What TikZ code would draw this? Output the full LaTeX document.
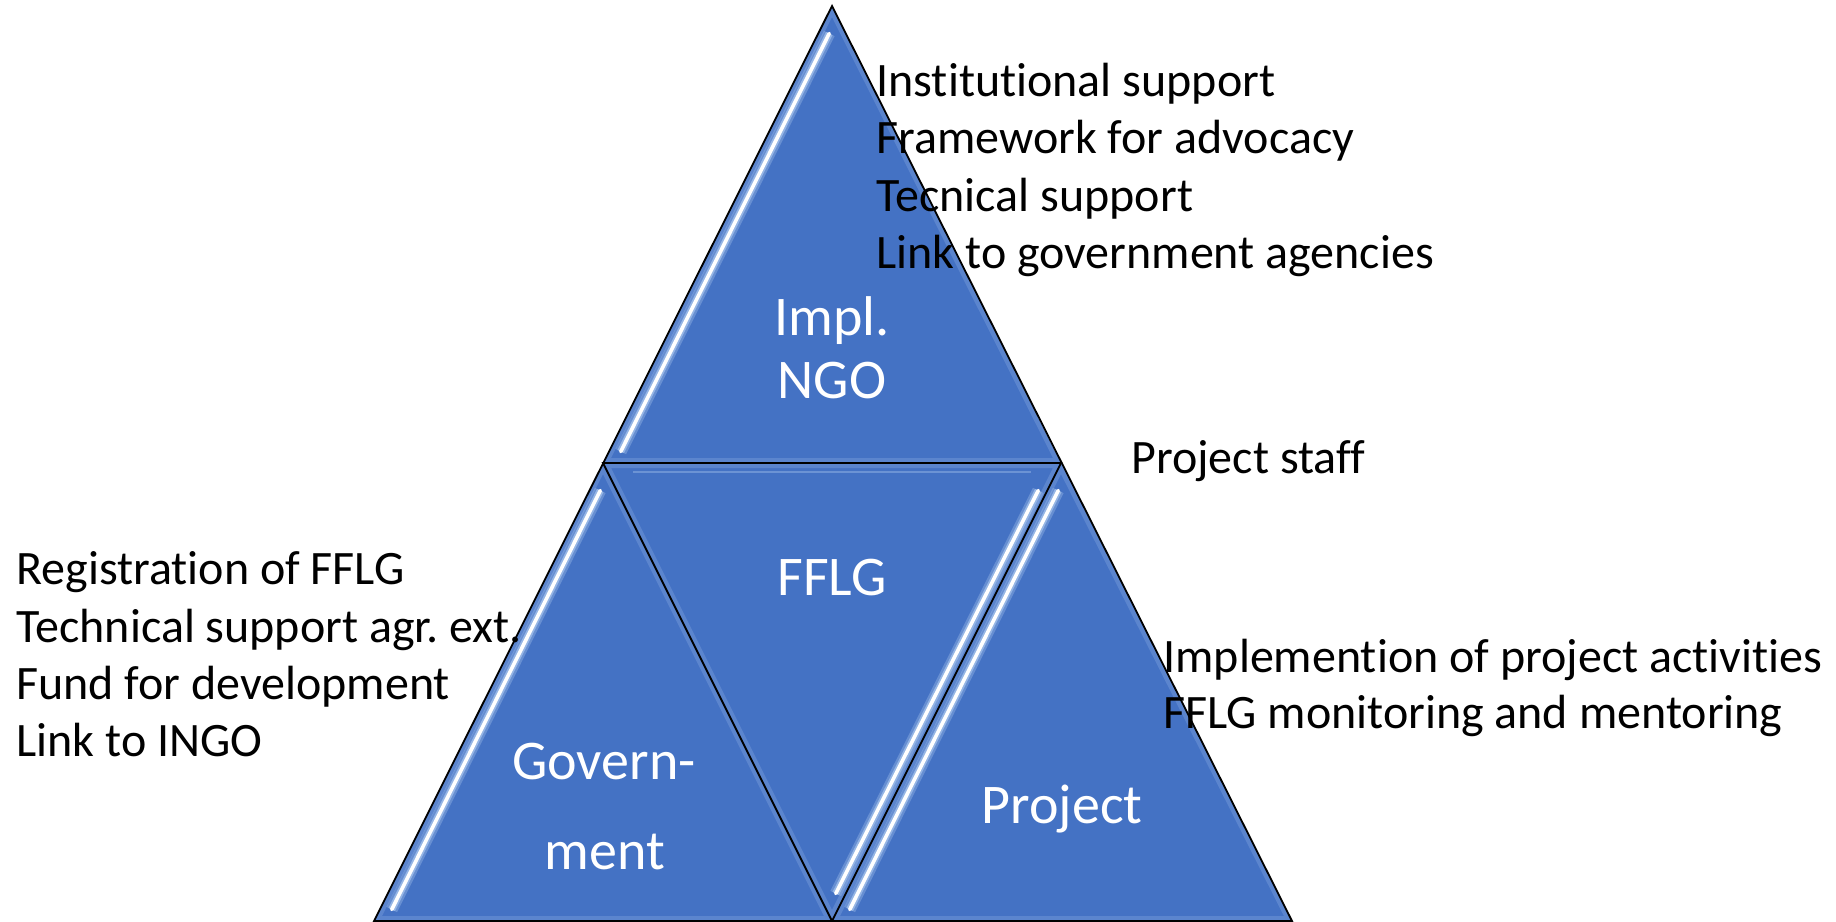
\documentclass[tikz,border=0pt]{standalone}
\usepackage{fontspec}
\setmainfont{Carlito}[RawFeature={-liga}]
\usetikzlibrary{calc}
\definecolor{tri}{HTML}{4472C4}
\definecolor{triglow}{HTML}{A9C6EE}
\definecolor{tririm}{HTML}{7FA2DF}
\frenchspacing

\tikzset{
  facetfill/.style={fill=tri},
  facetrim/.style={draw=tririm, line width=5pt, opacity=0.4, line join=round},
  outline/.style={draw=black, line width=0.9pt, line join=miter},
  shinehaze/.style={draw=triglow, line width=6pt, opacity=0.35, line cap=butt},
  shineglow/.style={draw=triglow, line width=3.6pt, opacity=0.7, line cap=butt, preaction={shinehaze}},
  shinecore/.style={draw=white, line width=1.8pt, line cap=round, preaction={shineglow}},
  blk/.style={inner sep=0pt, text=black, font=\fontsize{24}{28.75}\selectfont},
  wht/.style={inner sep=0pt, text=white, font=\fontsize{28}{33}\selectfont},
}

\begin{document}
\begin{tikzpicture}[x=0.5pt,y=-0.5pt]
\useasboundingbox (0,0) rectangle (1836,921);

% corner points of the pyramid
\coordinate (A)  at (832,6);
\coordinate (ML) at (603,463);
\coordinate (MR) at (1061,463);
\coordinate (L)  at (374,921);
\coordinate (B)  at (832,921);
\coordinate (R)  at (1292,921);

% top facet
\begin{scope}
  \clip (A) -- (ML) -- (MR) -- cycle;
  \fill[facetfill] (A) -- (ML) -- (MR) -- cycle;
  \draw[facetrim] (A) -- (ML) -- (MR) -- cycle;
  \draw[shinecore] ($(A)!0.06!(ML)+(11,0)$) -- ($(A)!0.975!(ML)+(12,0)$);
\end{scope}

% left facet
\begin{scope}
  \clip (ML) -- (L) -- (B) -- cycle;
  \fill[facetfill] (ML) -- (L) -- (B) -- cycle;
  \draw[facetrim] (ML) -- (L) -- (B) -- cycle;
  \draw[shinecore] ($(ML)!0.06!(L)+(11,0)$) -- ($(ML)!0.975!(L)+(12,0)$);
\end{scope}

% centre facet, pointing down
\begin{scope}
  \clip (ML) -- (MR) -- (B) -- cycle;
  \fill[facetfill] (ML) -- (MR) -- (B) -- cycle;
  \draw[facetrim] (ML) -- (MR) -- (B) -- cycle;
  \draw[draw=triglow, line width=1.2pt, opacity=0.4] ($(ML)+(30,9)$) -- ($(MR)+(-30,9)$);
  \draw[shinecore] ($(MR)!0.06!(B)+(-9,0)$) -- ($(MR)!0.94!(B)+(-10,0)$);
\end{scope}

% right facet
\begin{scope}
  \clip (MR) -- (B) -- (R) -- cycle;
  \fill[facetfill] (MR) -- (B) -- (R) -- cycle;
  \draw[facetrim] (MR) -- (B) -- (R) -- cycle;
  \draw[shinecore] ($(MR)!0.06!(B)+(11,0)$) -- ($(MR)!0.975!(B)+(12,0)$);
\end{scope}

% edges
\draw[outline] (A) -- (L) -- (R) -- cycle;
\draw[outline] (ML) -- (MR) -- (B) -- cycle;

% facet labels
\node[wht, anchor=base] (ngo1) at (832,335) {Impl.};
\node[wht, anchor=base] (ngo2) at (832,398) {NGO};
\node[wht, anchor=base] (fflg) at (832,595) {FFLG};
\node[wht, anchor=base] (gov1) at (604,779) {Govern-};
\node[wht, anchor=base] (gov2) at (605,869) {ment};
\node[wht, anchor=base] (proj) at (1062,823) {Project};

% roles of the implementing NGO
\node[blk, anchor=base west] (t1) at (876,96)  {Institutional support};
\node[blk, anchor=base west] (t2) at (876,153) {Framework for advocacy};
\node[blk, anchor=base west] (t3) at (876,211) {Tecnical support};
\node[blk, anchor=base west] (t4) at (876,268) {Link to government agencies};

% roles of the government
\node[blk, anchor=base west] (g1) at (16,584) {Registration of FFLG};
\node[blk, anchor=base west] (g2) at (16,642) {Technical support agr. ext.};
\node[blk, anchor=base west] (g3) at (16,699) {Fund for development};
\node[blk, anchor=base west] (g4) at (16,756) {Link to INGO};

% roles of the project
\node[blk, anchor=base west] (p0) at (1131,473) {Project staff};
\node[blk, anchor=base west] (p1) at (1163,672) {Implemention of project activities};
\node[blk, anchor=base west] (p2) at (1163,728) {FFLG monitoring and mentoring};
\end{tikzpicture}
\end{document}
